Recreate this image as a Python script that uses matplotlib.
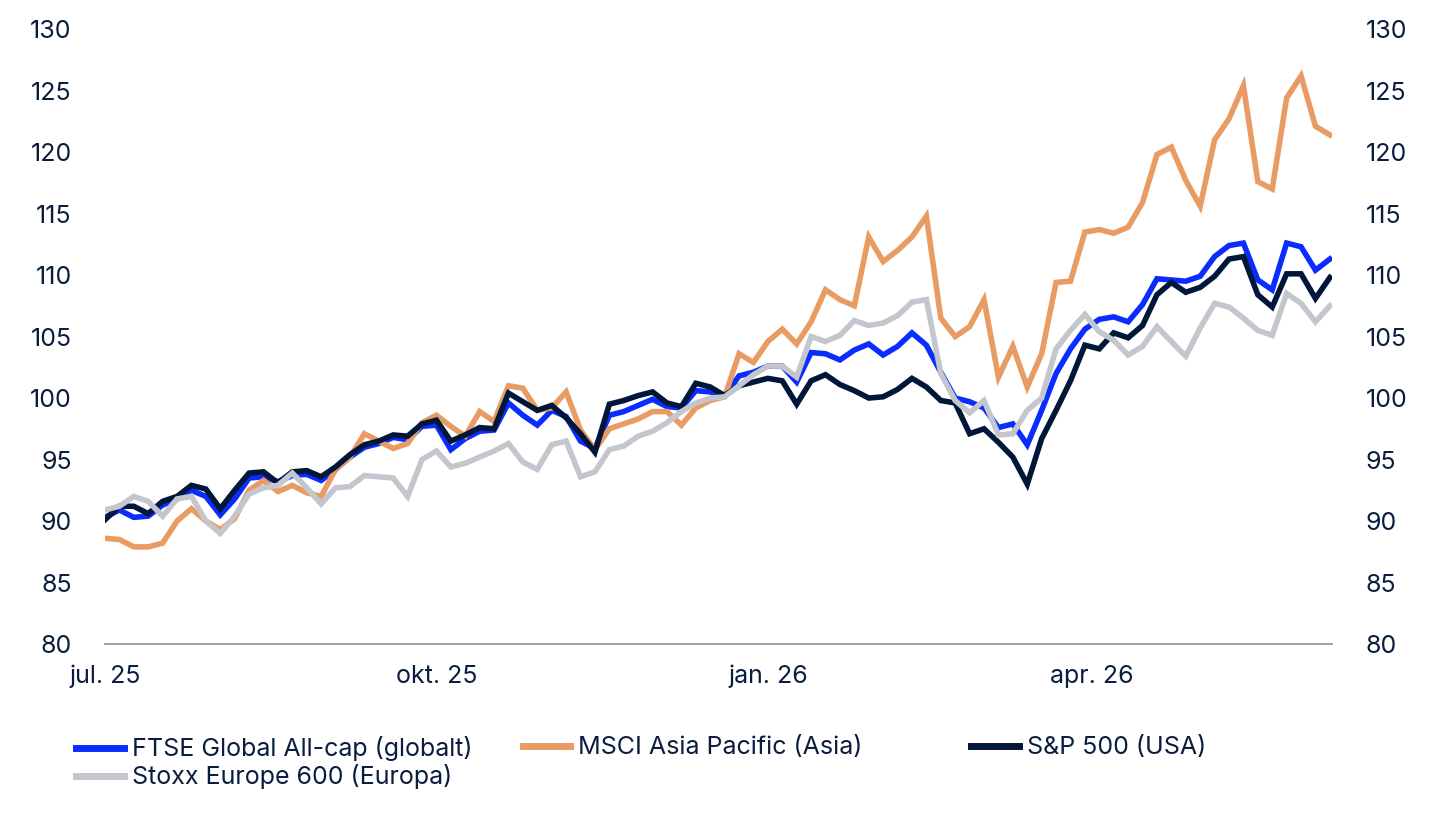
import matplotlib
matplotlib.use("Agg")
import matplotlib.pyplot as plt
from matplotlib.lines import Line2D
import pandas as pd

# Indeksert utvikling, 4-dagers punkter fra 1. juli 2025
start = "2025-07-01"
n_points = 86

ftse = [90.3, 90.9, 90.3, 90.4, 91.3, 91.8, 92.5, 92.0, 90.5, 91.8,
        93.5, 93.6, 93.2, 93.7, 93.8, 93.3, 94.2, 95.2, 96.0, 96.3,
        96.8, 96.6, 97.7, 97.8, 95.8, 96.7, 97.3, 97.4, 99.6, 98.6,
        97.8, 99.0, 98.5, 96.5, 95.9, 98.6, 98.9, 99.4, 99.9, 99.3,
        99.2, 100.6, 100.5, 100.2, 101.8, 102.1, 102.6, 102.6, 101.3, 103.7,
        103.6, 103.1, 103.9, 104.4, 103.5, 104.2, 105.3, 104.3, 102.1, 100.0,
        99.7, 99.2, 97.6, 97.9, 96.2, 99.0, 102.0, 104.0, 105.6, 106.4,
        106.6, 106.2, 107.6, 109.7, 109.6, 109.5, 109.9, 111.5, 112.4, 112.6,
        109.6, 108.8, 112.6, 112.3, 110.4, 111.3]

msci_asia = [88.6, 88.5, 87.9, 87.9, 88.2, 90.0, 91.0, 90.0, 89.3, 90.2,
             92.5, 93.3, 92.4, 92.9, 92.3, 92.0, 94.2, 95.2, 97.1, 96.5,
             95.9, 96.3, 98.0, 98.6, 97.7, 96.9, 98.9, 98.1, 101.0, 100.8,
             99.0, 99.2, 100.5, 97.4, 95.8, 97.5, 97.9, 98.3, 98.9, 98.9,
             97.8, 99.2, 99.8, 100.1, 103.6, 102.9, 104.6, 105.6, 104.4, 106.2,
             108.8, 108.0, 107.5, 113.1, 111.1, 112.0, 113.1, 114.8, 106.5, 105.0,
             105.8, 108.0, 101.7, 104.2, 100.9, 103.6, 109.4, 109.5, 113.5, 113.7,
             113.4, 113.9, 115.9, 119.8, 120.4, 117.7, 115.6, 121.0, 122.7, 125.4,
             117.6, 117.0, 124.4, 126.2, 122.1, 121.4]

sp500 = [90.1, 91.2, 91.2, 90.6, 91.6, 92.0, 92.9, 92.6, 91.0, 92.5,
         93.9, 94.0, 93.1, 94.0, 94.1, 93.6, 94.4, 95.4, 96.2, 96.5,
         97.0, 96.9, 97.9, 98.2, 96.5, 97.0, 97.6, 97.5, 100.4, 99.7,
         99.0, 99.4, 98.4, 97.1, 95.6, 99.5, 99.8, 100.2, 100.5, 99.6,
         99.3, 101.2, 100.9, 100.2, 101.0, 101.3, 101.6, 101.4, 99.5, 101.4,
         101.9, 101.1, 100.6, 100.0, 100.1, 100.7, 101.6, 100.9, 99.8, 99.6,
         97.1, 97.5, 96.4, 95.2, 93.0, 96.7, 99.0, 101.4, 104.3, 104.0,
         105.3, 104.9, 105.9, 108.4, 109.4, 108.6, 109.0, 109.9, 111.3, 111.5,
         108.4, 107.4, 110.1, 110.1, 108.1, 109.8]

stoxx600 = [90.9, 91.2, 92.0, 91.6, 90.4, 91.8, 92.0, 90.0, 89.0, 90.4,
            92.2, 92.7, 92.9, 93.9, 92.7, 91.4, 92.7, 92.8, 93.7, 93.6,
            93.5, 92.0, 95.0, 95.7, 94.4, 94.7, 95.2, 95.7, 96.3, 94.8,
            94.2, 96.2, 96.5, 93.6, 94.0, 95.8, 96.1, 96.9, 97.3, 98.0,
            98.9, 99.6, 100.0, 100.1, 101.0, 101.9, 102.6, 102.6, 101.7, 105.0,
            104.6, 105.1, 106.3, 105.9, 106.1, 106.7, 107.8, 108.0, 102.0, 99.8,
            98.8, 99.8, 97.0, 97.1, 99.0, 100.0, 104.0, 105.5, 106.8, 105.4,
            104.7, 103.5, 104.2, 105.8, 104.6, 103.4, 105.7, 107.7, 107.4, 106.5,
            105.5, 105.1, 108.5, 107.7, 106.2, 107.5]

labels = ["FTSE Global All-cap (globalt)", "MSCI Asia Pacific (Asia)",
          "S&P 500 (USA)", "Stoxx Europe 600 (Europa)"]
colors = ["#0a2cff", "#e99b64", "#00173a", "#c3c6cc"]

tick_dates = ["2025-07-01", "2025-10-01", "2026-01-01", "2026-04-01"]
tick_labels = ["jul. 25", "okt. 25", "jan. 26", "apr. 26"]
y_ticks = list(range(80, 131, 5))

text_col = "#0b1d3f"
plt.rcParams["font.family"] = ["Inter", "DejaVu Sans"]

dates = pd.date_range(start, periods=n_points, freq="4D")

fig = plt.figure(figsize=(14.36, 8.31), dpi=100)
ax = fig.add_axes([0.0731, 0.225, 0.8545, 0.740])

# plottes i legend-rekkefølge, siste linje øverst
for vals, col in zip([ftse, msci_asia, sp500, stoxx600], colors):
    ax.plot(dates, vals, color=col, lw=4.0, solid_joinstyle="miter")

ax.set_ylim(80, 130)
ax.set_xlim(dates[0], dates[-1] + pd.Timedelta(days=0.6))
ax.set_yticks(y_ticks)
ax.set_xticks(pd.to_datetime(tick_dates))
ax.set_xticklabels(tick_labels)

for side in ["top", "left", "right"]:
    ax.spines[side].set_visible(False)
ax.spines["bottom"].set_color("#9a9a9a")
ax.spines["bottom"].set_linewidth(1.3)

ax.tick_params(axis="y", length=0, pad=24, labelsize=18, colors=text_col,
               labelleft=True, labelright=True)
ax.tick_params(axis="x", length=0, pad=15, labelsize=18, colors=text_col)

# legenden i tre faste kolonner under figuren
handles = [Line2D([], [], color=c, lw=5) for c in colors]
leg_kw = dict(frameon=False, fontsize=18, handlelength=1.9, handletextpad=0.32,
              labelspacing=0.12, borderpad=0, labelcolor=text_col)
fig.legend([handles[0], handles[3]], [labels[0], labels[3]],
           loc="upper left", bbox_to_anchor=(0.0445, 0.129), **leg_kw)
fig.legend([handles[1]], [labels[1]],
           loc="upper left", bbox_to_anchor=(0.3555, 0.129), **leg_kw)
fig.legend([handles[2]], [labels[2]],
           loc="upper left", bbox_to_anchor=(0.6675, 0.129), **leg_kw)

fig.savefig("out.png", dpi=100)
